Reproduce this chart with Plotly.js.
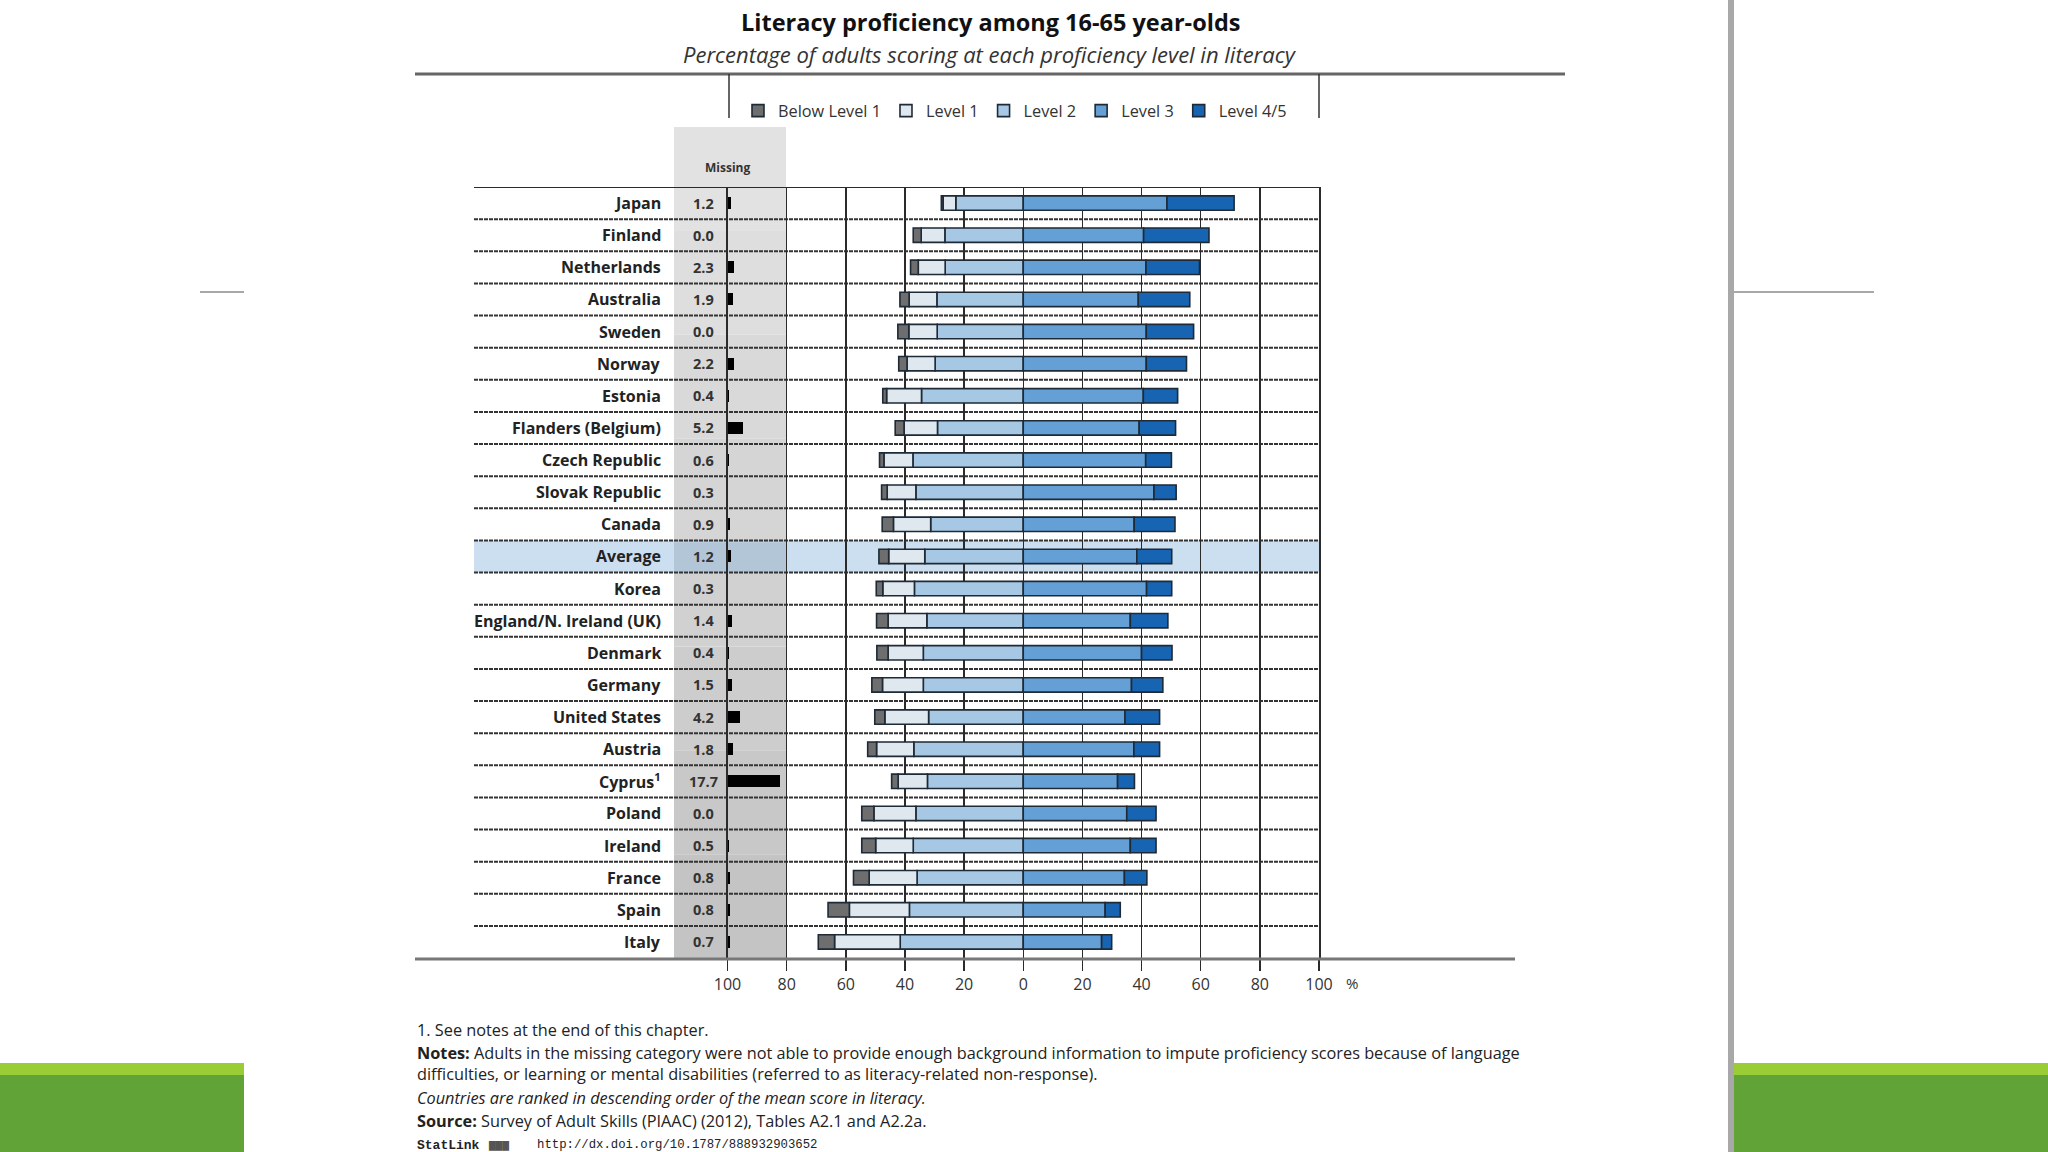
<!DOCTYPE html>
<html>
<head>
<meta charset="utf-8">
<script src="https://cdn.plot.ly/plotly-3.0.1.min.js"></script>
<style>html,body{margin:0;padding:0;background:#fff;}#chart{width:2048px;height:1152px;}</style>
</head>
<body>
<div id="chart"></div>
<script>
// ---- data ----
const countries = ["Japan","Finland","Netherlands","Australia","Sweden","Norway","Estonia","Flanders (Belgium)","Czech Republic","Slovak Republic","Canada","Average","Korea","England/N. Ireland (UK)","Denmark","Germany","United States","Austria","Cyprus<sup>1</sup>","Poland","Ireland","France","Spain","Italy"];
const belowLevel1 = [0.6,2.7,2.6,3.1,3.7,2.8,1.3,3.0,1.5,1.9,3.8,3.3,2.2,3.9,3.8,3.6,3.4,3.0,2.2,4.1,4.7,5.3,7.2,5.5];
const level1 = [4.3,8.0,9.1,9.4,9.6,9.5,11.8,11.3,9.8,9.7,12.6,12.2,10.7,13.1,11.9,13.8,14.8,12.6,9.9,14.2,12.7,16.2,20.3,22.2];
const level2 = [22.8,26.5,26.4,29.2,29.1,29.8,34.4,29.0,37.3,36.3,31.3,33.3,36.8,32.6,33.8,33.8,32.0,37.0,32.4,36.3,37.2,35.9,38.5,41.6];
const level3 = [48.6,40.7,41.5,38.9,41.6,41.6,40.6,39.2,41.4,44.2,37.5,38.4,41.7,36.2,40.0,36.6,34.4,37.4,31.9,35.0,36.2,34.2,27.7,26.5];
const level45 = [22.7,22.1,18.1,17.4,16.0,13.6,11.6,12.3,8.7,7.5,13.8,11.8,8.5,12.7,10.3,10.6,11.7,8.7,5.7,9.9,8.7,7.6,5.1,3.4];
const missing = [1.2,0.0,2.3,1.9,0.0,2.2,0.4,5.2,0.6,0.3,0.9,1.2,0.3,1.4,0.4,1.5,4.2,1.8,17.7,0.0,0.5,0.8,0.8,0.7];
const seriesNames = ["Below Level 1","Level 1","Level 2","Level 3","Level 4/5"];
const xTickVals = [-100,-80,-60,-40,-20,0,20,40,60,80,100];
const xTickText = ["100","80","60","40","20","0","20","40","60","80","100"];
const highlightRow = "Average";

// ---- styling ----
const W = 2048, H = 1152;
const px = v => v / W;
const py = v => 1 - v / H;
const outline = {color: '#1e2a36', width: 1.6};
const colors = ['#6e6e6e', '#dfe7ef', '#a6c8e5', '#64a0d6', '#1764b2'];
const neg = a => a.map(v => -v);
const barW = 0.45;

const traces = [
  {type:'bar', orientation:'h', name:seriesNames[2], y:countries, x:neg(level2), width:barW, legendrank:3,
   marker:{color:colors[2], line:outline}, hoverinfo:'skip'},
  {type:'bar', orientation:'h', name:seriesNames[1], y:countries, x:neg(level1), width:barW, legendrank:2,
   marker:{color:colors[1], line:outline}, hoverinfo:'skip'},
  {type:'bar', orientation:'h', name:seriesNames[0], y:countries, x:neg(belowLevel1), width:barW, legendrank:1,
   marker:{color:colors[0], line:outline}, hoverinfo:'skip'},
  {type:'bar', orientation:'h', name:seriesNames[3], y:countries, x:level3, width:barW, legendrank:4,
   marker:{color:colors[3], line:outline}, hoverinfo:'skip'},
  {type:'bar', orientation:'h', name:seriesNames[4], y:countries, x:level45, width:barW, legendrank:5,
   marker:{color:colors[4], line:outline}, hoverinfo:'skip'},
  {type:'bar', orientation:'h', name:'Missing', y:countries, x:missing, base:-100, width:0.37, showlegend:false,
   marker:{color:'#000', line:{width:0}}, hoverinfo:'skip'}
];

const plotTop = 187, plotBot = 958;
const shapes = [];
// slide decorations
shapes.push({type:'rect', xref:'paper', yref:'paper', x0:px(1728), x1:px(1734), y0:0, y1:1, fillcolor:'#a8a8a8', line:{width:0}, layer:'below'});
shapes.push({type:'rect', xref:'paper', yref:'paper', x0:0, x1:px(244), y0:0, y1:py(1075), fillcolor:'#62a338', line:{width:0}, layer:'below'});
shapes.push({type:'rect', xref:'paper', yref:'paper', x0:0, x1:px(244), y0:py(1075), y1:py(1063), fillcolor:'#9acd35', line:{width:0}, layer:'below'});
shapes.push({type:'rect', xref:'paper', yref:'paper', x0:px(1734), x1:1, y0:0, y1:py(1075), fillcolor:'#62a338', line:{width:0}, layer:'below'});
shapes.push({type:'rect', xref:'paper', yref:'paper', x0:px(1734), x1:1, y0:py(1075), y1:py(1063), fillcolor:'#9acd35', line:{width:0}, layer:'below'});
shapes.push({type:'line', xref:'paper', yref:'paper', x0:px(200), x1:px(244), y0:py(292), y1:py(292), line:{color:'#a8a8a8', width:2}});
shapes.push({type:'line', xref:'paper', yref:'paper', x0:px(1734), x1:px(1874), y0:py(292), y1:py(292), line:{color:'#a8a8a8', width:2}});

// grey "missing" column (slight vertical shading)
const bandTop = 127, bandBot = plotBot, nb = 8;
for (let i = 0; i < nb; i++) {
  const g = Math.round(226 - (226 - 196) * i / (nb - 1));
  shapes.push({type:'rect', xref:'paper', yref:'paper', x0:px(674), x1:px(786),
    y0:py(bandTop + (bandBot - bandTop) * (i + 1) / nb), y1:py(bandTop + (bandBot - bandTop) * i / nb),
    fillcolor:`rgb(${g},${g},${g})`, line:{width:0}, layer:'below'});
}
// highlighted row
const hi = countries.indexOf(highlightRow);
shapes.push({type:'rect', xref:'paper', yref:'y', x0:px(474), x1:px(1319), y0:hi - 0.5, y1:hi + 0.5,
  fillcolor:'rgba(140,185,225,0.45)', line:{width:0}, layer:'below'});
// row separators
for (let i = 0; i < countries.length - 1; i++) {
  shapes.push({type:'line', xref:'paper', yref:'y', x0:px(474), x1:px(1319), y0:i + 0.5, y1:i + 0.5,
    line:{color:'#333', width:2, dash:'4px,1px'}, layer:'below'});
}
// top frame line
shapes.push({type:'line', xref:'paper', yref:'y', x0:px(474), x1:px(1319), y0:-0.5, y1:-0.5, line:{color:'#2b2b2b', width:2}});
// page rules
shapes.push({type:'line', xref:'paper', yref:'paper', x0:px(415), x1:px(1565), y0:py(74), y1:py(74), line:{color:'#666', width:3}});
shapes.push({type:'line', xref:'paper', yref:'paper', x0:px(415), x1:px(1515), y0:py(plotBot + 1), y1:py(plotBot + 1), line:{color:'#777', width:3}});
// legend box sides
shapes.push({type:'line', xref:'paper', yref:'paper', x0:px(729), x1:px(729), y0:py(118), y1:py(74), line:{color:'#333', width:1.5}});
shapes.push({type:'line', xref:'paper', yref:'paper', x0:px(1319), x1:px(1319), y0:py(118), y1:py(74), line:{color:'#333', width:1.5}});

const annotations = [];
const baseFont = 'Open Sans, Liberation Sans, sans-serif';
countries.forEach((c, i) => {
  annotations.push({xref:'paper', yref:'y', x:px(663), y:i, xanchor:'right', yanchor:'middle', showarrow:false,
    text:c, font:{family:baseFont, size:16, color:'#222', weight:700}});
  annotations.push({xref:'paper', yref:'y', x:px(703), y:i, xanchor:'center', yanchor:'middle', showarrow:false,
    text:missing[i].toFixed(1), font:{family:baseFont, size:14.5, color:'#333', weight:700}});
});
annotations.push({xref:'paper', yref:'paper', x:px(727), y:py(167), xanchor:'center', yanchor:'middle', showarrow:false,
  text:'Missing', font:{family:baseFont, size:12, color:'#333', weight:700}});
annotations.push({xref:'paper', yref:'paper', x:px(990), y:py(22), xanchor:'center', yanchor:'middle', showarrow:false,
  text:'<b>Literacy proficiency among 16-65 year-olds</b>', font:{family:baseFont, size:23.5, color:'#111'}});
annotations.push({xref:'paper', yref:'paper', x:px(990), y:py(54), xanchor:'center', yanchor:'middle', showarrow:false,
  text:'<i>Percentage of adults scoring at each proficiency level in literacy</i>', font:{family:baseFont, size:22, color:'#333'}});
annotations.push({xref:'paper', yref:'paper', x:px(1352), y:py(983), xanchor:'center', yanchor:'middle', showarrow:false,
  text:'%', font:{family:baseFont, size:15, color:'#333'}});
const notes = [
  [1030, '1. See notes at the end of this chapter.'],
  [1053, '<b>Notes:</b> Adults in the missing category were not able to provide enough background information to impute proficiency scores because of language'],
  [1074, 'difficulties, or learning or mental disabilities (referred to as literacy-related non-response).'],
  [1098, '<i>Countries are ranked in descending order of the mean score in literacy.</i>'],
  [1121, '<b>Source:</b> Survey of Adult Skills (PIAAC) (2012), Tables A2.1 and A2.2a.']
];
notes.forEach(n => annotations.push({xref:'paper', yref:'paper', x:px(415), y:py(n[0]), xanchor:'left', yanchor:'middle',
  showarrow:false, align:'left', text:n[1], font:{family:baseFont, size:16.3, color:'#222'}}));
const mono = 'Liberation Mono, DejaVu Sans Mono, monospace';
annotations.push({xref:'paper', yref:'paper', x:px(415), y:py(1145), xanchor:'left', yanchor:'middle', showarrow:false,
  text:'<b>StatLink</b>', font:{family:mono, size:13, color:'#222'}});
annotations.push({xref:'paper', yref:'paper', x:px(486), y:py(1145), xanchor:'left', yanchor:'middle', showarrow:false,
  text:'▆▆▆', font:{family:mono, size:11, color:'#555'}});
annotations.push({xref:'paper', yref:'paper', x:px(535), y:py(1145), xanchor:'left', yanchor:'middle', showarrow:false,
  text:'http://dx.doi.org/10.1787/888932903652', font:{family:mono, size:12.3, color:'#222'}});

const layout = {
  width: W, height: H,
  margin: {l:0, r:0, t:0, b:0, pad:0},
  paper_bgcolor: '#ffffff',
  plot_bgcolor: 'rgba(0,0,0,0)',
  barmode: 'relative',
  bargap: 0,
  showlegend: true,
  legend: {orientation:'h', x:px(738), y:py(111), xanchor:'left', yanchor:'middle', bgcolor:'rgba(0,0,0,0)',
    font:{family:baseFont, size:16.3, color:'#333'}, traceorder:'normal', itemwidth:30, borderwidth:0},
  xaxis: {domain:[px(727.5), px(1319)], range:[-100, 100], tickvals:xTickVals, ticktext:xTickText,
    showgrid:true, gridcolor:'#2b2b2b', gridwidth:1.5, zeroline:false, showline:false,
    ticks:'outside', ticklen:12, tickwidth:1.5, tickcolor:'#2b2b2b',
    tickfont:{family:baseFont, size:16, color:'#333'}, fixedrange:true},
  yaxis: {domain:[1 - plotBot / H, 1 - plotTop / H], type:'category', categoryorder:'array', categoryarray:countries,
    range:[countries.length - 0.5, -0.5], showticklabels:false, ticks:'', showgrid:false, zeroline:false,
    showline:true, mirror:true, linecolor:'#2b2b2b', linewidth:1.5, fixedrange:true},
  shapes: shapes,
  annotations: annotations
};

Plotly.newPlot('chart', traces, layout, {staticPlot:true, displayModeBar:false});
</script>
</body>
</html>
